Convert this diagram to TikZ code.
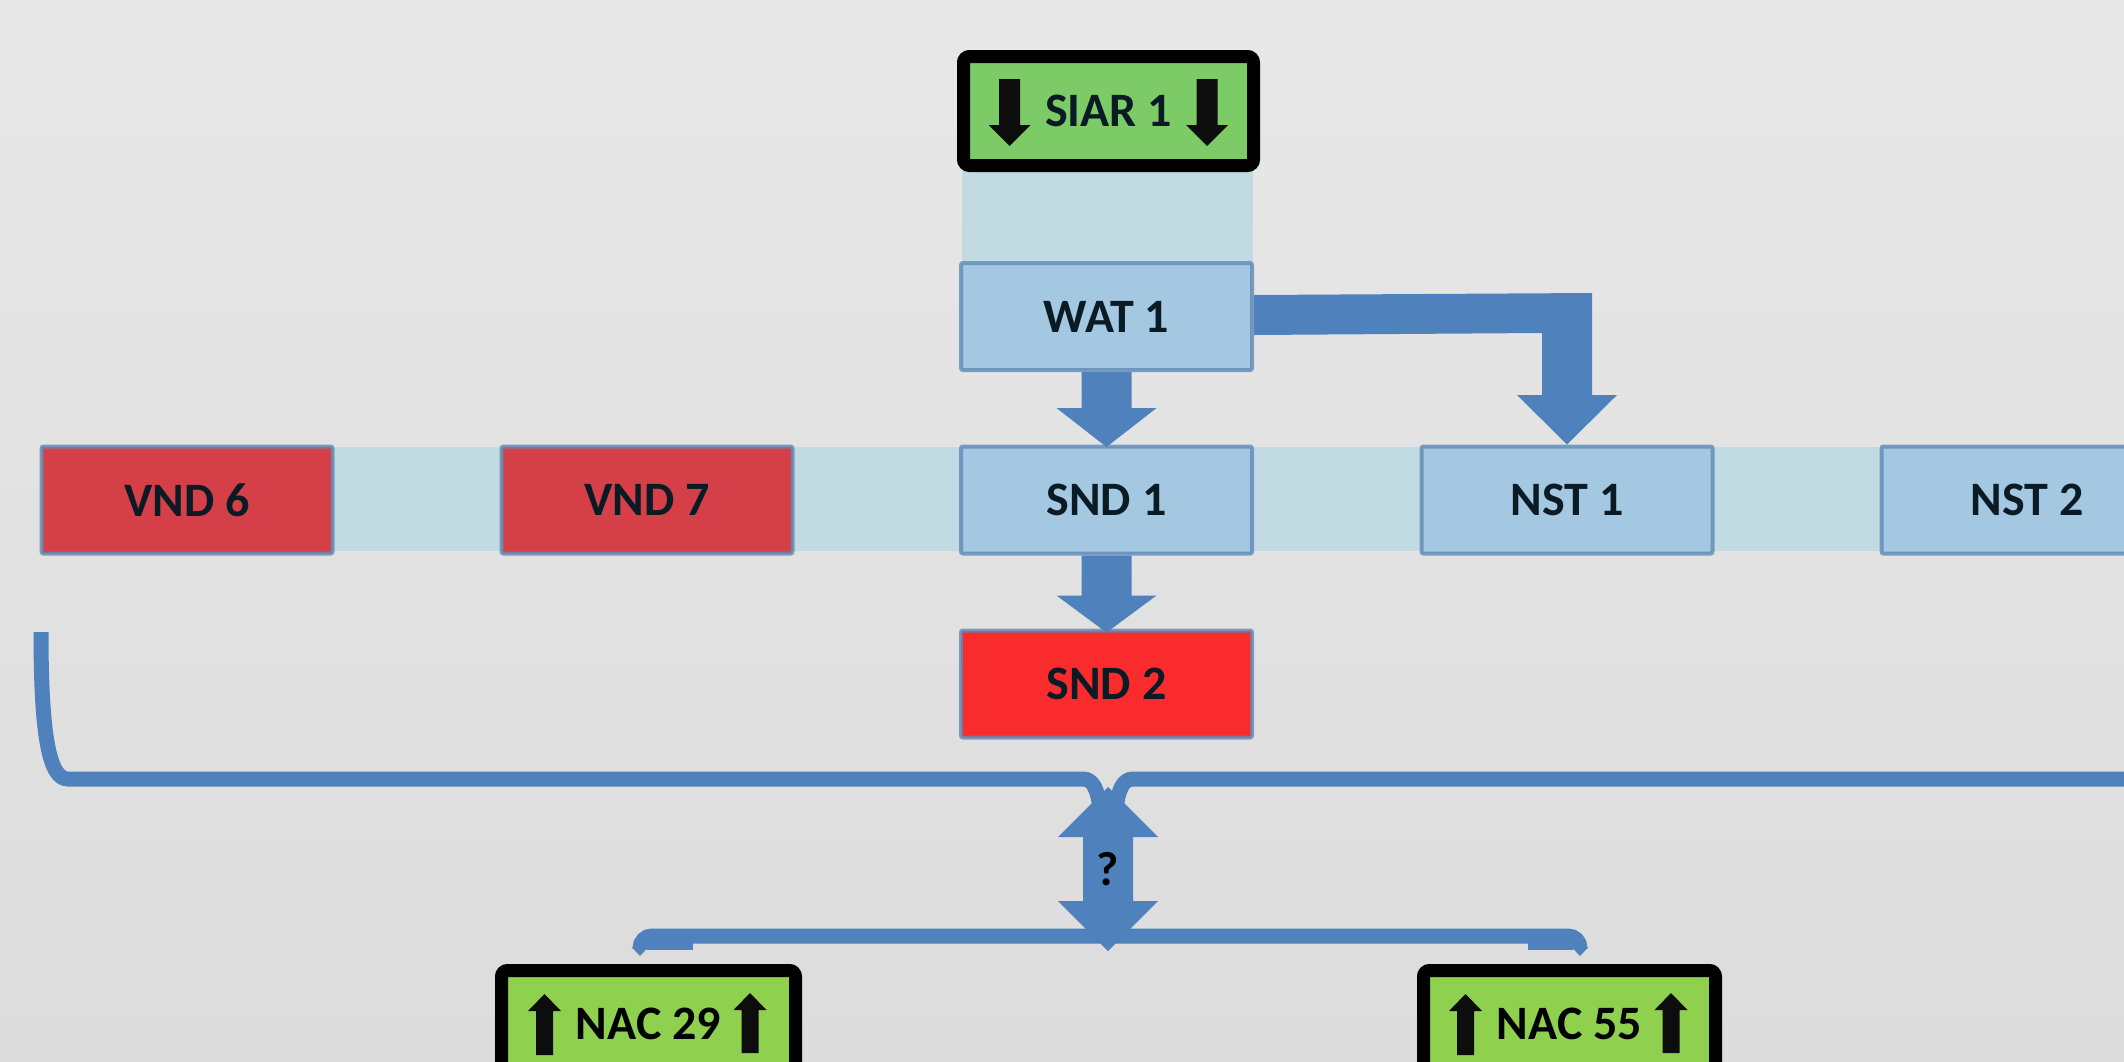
\documentclass[tikz,border=0pt]{standalone}
\usepackage{fontspec}
\setmainfont{Carlito}
\usetikzlibrary{calc}
\definecolor{bgtop}{HTML}{E8E8E8}
\definecolor{bgbot}{HTML}{DCDCDC}
\definecolor{bandc}{HTML}{C2DBE3}
\definecolor{boxblue}{HTML}{A4C8E1}
\definecolor{boxline}{HTML}{5F8AB5}
\definecolor{vndred}{HTML}{D53F48}
\definecolor{sndred}{HTML}{F92B2D}
\definecolor{arrblue}{HTML}{4F81BD}
\definecolor{siargreen}{HTML}{7DCB67}
\definecolor{nacgreen}{HTML}{8FD14F}
\definecolor{txt}{HTML}{0B1B26}
\definecolor{blk}{HTML}{0D0D0D}
\begin{document}
\begin{tikzpicture}[x=0.5pt,y=-0.5pt,
  lbl/.style={font=\fontsize{24}{28}\selectfont\bfseries, text=txt},
  box/.style={lbl, rectangle, minimum width=145.5pt, minimum height=53.5pt, inner sep=0pt,
    line width=2pt, draw=boxline, draw opacity=0.8, rounded corners=1pt},
  bluebox/.style={box, fill=boxblue},
  redbox/.style={box, fill=vndred},
  hotbox/.style={box, fill=sndred},
  signbox/.style={lbl, rectangle, inner sep=0pt, line width=6.5pt, draw=black, rounded corners=3pt},
  conn/.style={draw=arrblue, line width=7.5pt},
  fat/.style={fill=arrblue},
  blkarr/.style={fill=blk}
]
\useasboundingbox (0,0) rectangle (2124,1061);
\clip (0,0) rectangle (2124,1061);
\fill[top color=bgtop, bottom color=bgbot] (0,0) rectangle (2124,1061);

% light bands
\fill[bandc] (333,447) rectangle (2124,551);
\fill[bandc] (962,168) rectangle (1253,262);

% nodes
\node[signbox, fill=siargreen, minimum width=145pt, minimum height=54.5pt] (siar) at (1108.5,111) {SIAR 1};
\node[bluebox] (wat) at (1106.5,316.5) {WAT 1};
\node[redbox] (vnd6) at (187,500) {VND 6};
\node[redbox] (vnd7) at (647,500) {VND 7};
\node[bluebox] (snd1) at (1106.5,500) {SND 1};
\node[bluebox] (nst1) at (1567,500) {NST 1};
\node[bluebox] (nst2) at (2027,500) {NST 2};
\node[hotbox] (snd2) at (1106.5,684) {SND 2};
\node[signbox, fill=nacgreen, text=black, minimum width=147pt, minimum height=53.5pt] (nac29) at (648.5,1024) {NAC 29};
\node[signbox, fill=nacgreen, text=black, minimum width=146pt, minimum height=53.5pt] (nac55) at (1569.5,1024) {NAC 55};

% black arrows in signs
\fill[blkarr, shift={(siar.center)}] (-109.5,-32) -- (-88.5,-32) -- (-88.5,14) -- (-78,14) -- (-99,35) -- (-120,14) -- (-109.5,14) -- cycle;
\fill[blkarr, shift={(siar.center)}] (88,-32) -- (109,-32) -- (109,14) -- (119.5,14) -- (98.5,35) -- (77.5,14) -- (88,14) -- cycle;
\foreach \n in {nac29,nac55}{
  \fill[blkarr, shift={(\n.center)}] (-104,-30) -- (-87.5,-13) -- (-95.5,-13) -- (-95.5,31) -- (-112.5,31) -- (-112.5,-13) -- (-120.5,-13) -- cycle;
  \fill[blkarr, shift={(\n.center)}] (101.5,-31) -- (118,-14) -- (110,-14) -- (110,29) -- (93,29) -- (93,-14) -- (85,-14) -- cycle;
}

% block arrows
\fill[fat, shift={(wat.south)}] (-25,0) -- (-25,36) -- (-50,36) -- (0,75) -- (50,36) -- (25,36) -- (25,0) -- cycle;
\fill[fat, shift={(snd1.south)}] (-25,0) -- (-25,40) -- (-50,40) -- (0,77) -- (50,40) -- (25,40) -- (25,0) -- cycle;
\fill[fat] ($(wat.east)+(0,-21.5)$) -- ($(nst1.north)+(25,-151.5)$) -- ($(nst1.north)+(25,-49.5)$)
  -- ($(nst1.north)+(50,-49.5)$) -- (nst1.north) -- ($(nst1.north)+(-50,-49.5)$)
  -- ($(nst1.north)+(-25,-49.5)$) -- ($(nst1.north)+(-25,-111.5)$) -- ($(wat.east)+(0,18.5)$) -- cycle;

% upper bracket
\coordinate (qc) at (1108,869);
\coordinate (bl) at (41,632);
\coordinate (br) at (2140,779);
\draw[conn] (bl) .. controls (41,740) and (50,779) .. (68,779) -- ($(qc)+(-25,-90)$)
  .. controls ($(qc)+(-15,-90)$) and ($(qc)+(-11,-79)$) .. ($(qc)+(-9,-67)$);
\draw[conn] ($(qc)+(9,-67)$) .. controls ($(qc)+(11,-79)$) and ($(qc)+(15,-90)$) .. ($(qc)+(25,-90)$) -- (br);

% lower bracket
\draw[conn, rounded corners=6pt] ($(nac29.north)+(-8.5,-16)$) |- ($(qc)+(0,67)$) -| ($(nac55.north)+(10.5,-16)$);
\fill[fat] (647,936) rectangle (693,950);
\fill[fat] (1528,936) rectangle (1573,950);
\fill[fat] ($(nac29.north)+(-17,-17)$) -- ($(nac29.north)+(0,-17)$) -- ($(nac29.north)+(-8.5,-8)$) -- cycle;
\fill[fat] ($(nac55.north)+(2,-17)$) -- ($(nac55.north)+(19,-17)$) -- ($(nac55.north)+(10.5,-8)$) -- cycle;

% double arrow with question mark
\fill[fat, shift={(qc)}] (0,-82) -- (50,-32) -- (25,-32) -- (25,32) -- (50,32) -- (0,82) -- (-50,32) -- (-25,32) -- (-25,-32) -- (-50,-32) -- cycle;
\node[lbl, text=black] (q) at (qc) {?};
\end{tikzpicture}
\end{document}
